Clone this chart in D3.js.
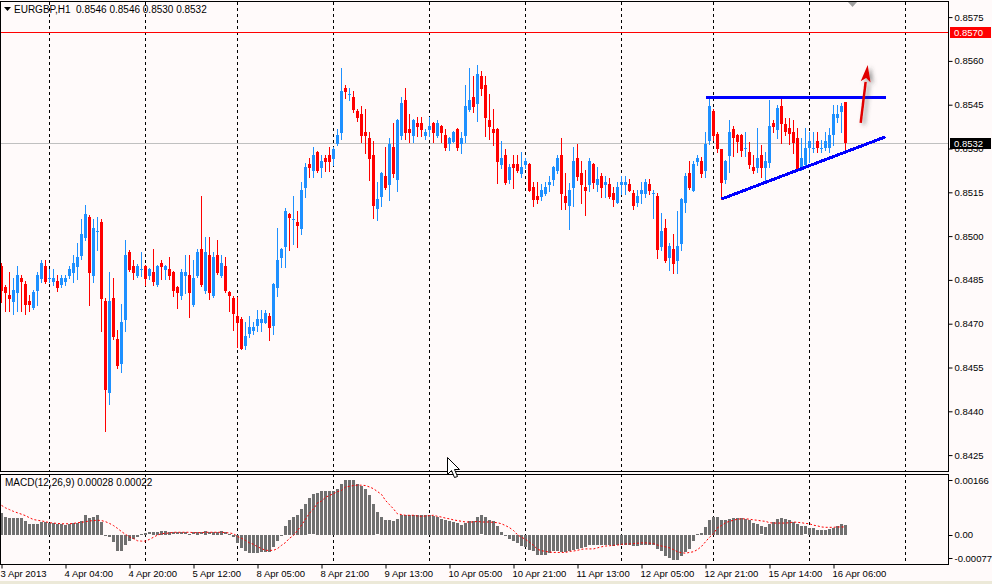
<!DOCTYPE html>
<html>
<head>
<meta charset="utf-8">
<script src="https://cdn.jsdelivr.net/npm/d3@7"></script>
<style>
  html, body { margin: 0; padding: 0; background: #fffafa; }
  svg { display: block; }
  text { font-family: "Liberation Sans", Arial, sans-serif; font-size: 9.5px; fill: #000; }
</style>
</head>
<body>
<svg id="chart" width="992" height="584"></svg>
<script>
// EURGBP H1, bar 0 = 3 Apr 2013 12:00, bar 211 = last (16 Apr)
const symbol = "EURGBP,H1";

const opens = [
  0.84898,0.84826,0.84798,0.84775,0.84805,0.84856,0.84836,0.84778,0.84755,0.84812,
  0.84853,0.84898,0.84854,0.84843,0.84846,0.84832,0.84843,0.84863,0.84874,0.84894,
  0.84932,0.84993,0.85065,0.84863,0.85016,0.85048,0.84778,0.84463,0.84788,0.84648,
  0.84562,0.84713,0.84946,0.84898,0.84863,0.84886,0.84898,0.84863,0.84877,0.84832,
  0.84908,0.84884,0.84887,0.84877,0.84826,0.84795,0.84863,0.84867,0.84765,0.84863,
  0.84956,0.84812,0.84935,0.84795,0.84935,0.84863,0.84898,0.84809,0.84788,0.84726,
  0.84717,0.84625,0.84666,0.84676,0.84693,0.84703,0.84703,0.84727,0.84693,0.84823,
  0.84926,0.84964,0.85077,0.85056,0.85049,0.85025,0.85166,0.85248,0.85224,0.85288,
  0.85234,0.85269,0.85278,0.85265,0.85315,0.85354,0.85507,0.85486,0.85476,0.85428,
  0.85418,0.85357,0.85336,0.85278,0.85094,0.85135,0.85206,0.85176,0.85305,0.85193,
  0.85344,0.85466,0.85367,0.85344,0.85387,0.85387,0.85344,0.85364,0.85387,0.85344,
  0.85377,0.85346,0.85315,0.85323,0.85367,0.85315,0.85344,0.85433,0.85476,0.85453,
  0.85548,0.85519,0.85398,0.85367,0.85367,0.85243,0.85278,0.85193,0.85247,0.85247,
  0.85214,0.85245,0.85247,0.85168,0.85137,0.85135,0.85145,0.85175,0.85193,0.85224,
  0.85278,0.85137,0.85104,0.85166,0.85267,0.85216,0.85168,0.85176,0.85247,0.85176,
  0.85206,0.85176,0.85178,0.85148,0.85114,0.85176,0.85176,0.85178,0.85148,0.85114,
  0.85145,0.85145,0.85178,0.85147,0.85137,0.84964,0.85028,0.84926,0.84956,0.84916,
  0.84974,0.85114,0.85216,0.85156,0.85255,0.85257,0.85224,0.85326,0.85428,0.85350,
  0.85297,0.85192,0.85274,0.85368,0.85346,0.85346,0.85300,0.85289,0.85238,0.85232,
  0.85278,0.85232,0.85249,0.85388,0.85363,0.85446,0.85383,0.85371,0.85358,0.85337,
  0.85238,0.85243,0.85301,0.85300,0.85326,0.85300,0.85301,0.85301,0.85346,0.85406,
  0.85426,0.85460
];
const highs = [
  0.84908,0.84832,0.84877,0.84856,0.84898,0.84867,0.84846,0.84798,0.84815,0.84877,
  0.84918,0.84918,0.84887,0.84887,0.84867,0.84867,0.84867,0.84898,0.84935,0.84976,
  0.85059,0.85107,0.85072,0.85059,0.85065,0.85059,0.84788,0.84877,0.84856,0.84678,
  0.84767,0.84987,0.84952,0.84918,0.84904,0.84946,0.84901,0.84891,0.84956,0.84901,
  0.84918,0.84901,0.84928,0.84880,0.84829,0.84887,0.84935,0.84935,0.84918,0.84956,
  0.85137,0.84997,0.84997,0.84946,0.84987,0.84935,0.84928,0.84812,0.84796,0.84792,
  0.84723,0.84707,0.84727,0.84707,0.84748,0.84748,0.84748,0.84738,0.84839,0.85029,
  0.84959,0.85097,0.85079,0.85138,0.85087,0.85186,0.85249,0.85269,0.85306,0.85291,
  0.85278,0.85279,0.85306,0.85306,0.85368,0.85577,0.85519,0.85507,0.85497,0.85435,
  0.85446,0.85435,0.85357,0.85326,0.85186,0.85220,0.85306,0.85336,0.85387,0.85401,
  0.85476,0.85507,0.85418,0.85401,0.85408,0.85408,0.85367,0.85408,0.85391,0.85398,
  0.85380,0.85367,0.85339,0.85360,0.85370,0.85357,0.85519,0.85577,0.85548,0.85587,
  0.85566,0.85548,0.85487,0.85435,0.85370,0.85326,0.85298,0.85248,0.85278,0.85278,
  0.85288,0.85267,0.85250,0.85186,0.85186,0.85178,0.85186,0.85207,0.85240,0.85278,
  0.85336,0.85216,0.85183,0.85305,0.85315,0.85257,0.85227,0.85267,0.85250,0.85237,
  0.85216,0.85206,0.85199,0.85168,0.85185,0.85206,0.85206,0.85196,0.85158,0.85158,
  0.85185,0.85196,0.85196,0.85158,0.85148,0.85080,0.85060,0.84977,0.85007,0.85086,
  0.85130,0.85216,0.85257,0.85257,0.85278,0.85271,0.85357,0.85476,0.85435,0.85357,
  0.85298,0.85261,0.85398,0.85378,0.85350,0.85350,0.85358,0.85323,0.85278,0.85369,
  0.85312,0.85289,0.85466,0.85398,0.85449,0.85474,0.85403,0.85403,0.85398,0.85369,
  0.85335,0.85369,0.85358,0.85358,0.85358,0.85329,0.85358,0.85369,0.85449,0.85449,
  0.85455,0.85460
];
const lows = [
  0.84775,0.84744,0.84744,0.84734,0.84744,0.84744,0.84734,0.84744,0.84750,0.84765,
  0.84843,0.84839,0.84843,0.84832,0.84812,0.84826,0.84832,0.84856,0.84843,0.84853,
  0.84922,0.84987,0.84765,0.84843,0.84952,0.84675,0.84332,0.84425,0.84648,0.84548,
  0.84535,0.84675,0.84880,0.84853,0.84860,0.84863,0.84832,0.84853,0.84832,0.84829,
  0.84853,0.84853,0.84853,0.84795,0.84755,0.84786,0.84805,0.84724,0.84761,0.84860,
  0.84829,0.84805,0.84786,0.84791,0.84870,0.84860,0.84809,0.84744,0.84678,0.84621,
  0.84612,0.84614,0.84655,0.84666,0.84676,0.84676,0.84701,0.84645,0.84666,0.84796,
  0.84895,0.84895,0.84953,0.84974,0.84964,0.85006,0.85135,0.85203,0.85203,0.85221,
  0.85203,0.85224,0.85224,0.85245,0.85312,0.85334,0.85474,0.85466,0.85425,0.85394,
  0.85323,0.85286,0.85193,0.85063,0.85056,0.85104,0.85163,0.85125,0.85203,0.85156,
  0.85334,0.85334,0.85323,0.85323,0.85344,0.85344,0.85334,0.85344,0.85323,0.85341,
  0.85323,0.85296,0.85296,0.85321,0.85296,0.85286,0.85323,0.85430,0.85425,0.85395,
  0.85484,0.85343,0.85332,0.85312,0.85183,0.85234,0.85180,0.85183,0.85166,0.85221,
  0.85203,0.85234,0.85153,0.85104,0.85114,0.85125,0.85142,0.85156,0.85176,0.85216,
  0.85094,0.85094,0.85025,0.85104,0.85193,0.85114,0.85073,0.85156,0.85166,0.85156,
  0.85135,0.85135,0.85132,0.85104,0.85112,0.85145,0.85145,0.85153,0.85094,0.85104,
  0.85114,0.85135,0.85145,0.85063,0.84926,0.84953,0.84913,0.84884,0.84875,0.84875,
  0.84953,0.85084,0.85163,0.85153,0.85245,0.85203,0.85203,0.85315,0.85329,0.85288,
  0.85126,0.85183,0.85221,0.85274,0.85289,0.85274,0.85274,0.85232,0.85215,0.85221,
  0.85203,0.85186,0.85238,0.85358,0.85335,0.85318,0.85346,0.85314,0.85284,0.85223,
  0.85226,0.85232,0.85255,0.85289,0.85289,0.85289,0.85295,0.85289,0.85312,0.85392,
  0.85358,0.85300
];
const closes = [
  0.84812,0.84805,0.84785,0.84815,0.84867,0.84843,0.84765,0.84765,0.84809,0.84867,
  0.84908,0.84843,0.84857,0.84856,0.84823,0.84856,0.84856,0.84887,0.84908,0.84928,
  0.85007,0.85076,0.84874,0.85028,0.85017,0.84785,0.84473,0.84778,0.84654,0.84555,
  0.84706,0.84935,0.84884,0.84874,0.84898,0.84887,0.84853,0.84887,0.84843,0.84898,
  0.84894,0.84898,0.84863,0.84812,0.84805,0.84877,0.84877,0.84805,0.84856,0.84946,
  0.84832,0.84946,0.84805,0.84928,0.84874,0.84908,0.84812,0.84795,0.84734,0.84703,
  0.84614,0.84659,0.84690,0.84690,0.84717,0.84717,0.84738,0.84686,0.84837,0.84919,
  0.84957,0.85086,0.85063,0.85058,0.85036,0.85159,0.85238,0.85234,0.85278,0.85224,
  0.85258,0.85255,0.85255,0.85298,0.85346,0.85497,0.85494,0.85487,0.85432,0.85404,
  0.85343,0.85343,0.85265,0.85104,0.85127,0.85216,0.85166,0.85315,0.85214,0.85398,
  0.85456,0.85354,0.85354,0.85398,0.85375,0.85364,0.85357,0.85377,0.85354,0.85387,
  0.85354,0.85303,0.85336,0.85357,0.85303,0.85336,0.85446,0.85466,0.85443,0.85555,
  0.85505,0.85404,0.85375,0.85353,0.85255,0.85267,0.85183,0.85237,0.85234,0.85224,
  0.85237,0.85257,0.85156,0.85125,0.85125,0.85158,0.85168,0.85185,0.85237,0.85267,
  0.85145,0.85114,0.85158,0.85257,0.85203,0.85176,0.85156,0.85257,0.85183,0.85196,
  0.85166,0.85185,0.85135,0.85125,0.85168,0.85185,0.85185,0.85156,0.85104,0.85137,
  0.85158,0.85185,0.85156,0.85148,0.84953,0.85017,0.84916,0.84966,0.84905,0.84966,
  0.85127,0.85206,0.85166,0.85247,0.85267,0.85214,0.85315,0.85446,0.85343,0.85298,
  0.85183,0.85257,0.85357,0.85337,0.85323,0.85291,0.85302,0.85243,0.85224,0.85269,
  0.85232,0.85257,0.85377,0.85375,0.85438,0.85383,0.85358,0.85349,0.85320,0.85226,
  0.85269,0.85301,0.85326,0.85302,0.85301,0.85302,0.85326,0.85346,0.85417,0.85417,
  0.85446,0.85320
];

// MACD(12,26,9): main histogram and signal, one value per bar
const macdMain = [
  0.00061,0.00050,0.00047,0.00047,0.00047,0.00047,0.00039,0.00030,0.00030,0.00030,
  0.00036,0.00036,0.00033,0.00033,0.00030,0.00030,0.00027,0.00030,0.00033,0.00033,
  0.00039,0.00056,0.00047,0.00050,0.00056,0.00036,-0.00003,-0.00007,-0.00021,-0.00044,
  -0.00044,-0.00027,-0.00016,-0.00011,-0.00007,0.00003,0.00005,0.00007,0.00008,0.00009,
  0.00012,0.00012,0.00009,0.00007,0.00007,0.00007,0.00007,0.00003,0.00007,0.00009,
  0.00007,0.00012,0.00007,0.00009,0.00009,0.00012,0.00007,0.00003,-0.00007,-0.00022,
  -0.00037,-0.00044,-0.00050,-0.00050,-0.00050,-0.00048,-0.00048,-0.00048,-0.00035,-0.00018,
  -0.00003,0.00025,0.00041,0.00050,0.00057,0.00073,0.00088,0.00103,0.00114,0.00118,
  0.00123,0.00123,0.00123,0.00123,0.00129,0.00144,0.00154,0.00156,0.00156,0.00144,
  0.00139,0.00129,0.00112,0.00088,0.00063,0.00050,0.00041,0.00041,0.00039,0.00044,
  0.00056,0.00056,0.00056,0.00057,0.00057,0.00057,0.00056,0.00056,0.00054,0.00050,
  0.00044,0.00041,0.00039,0.00036,0.00033,0.00027,0.00033,0.00039,0.00039,0.00050,
  0.00055,0.00050,0.00041,0.00039,0.00026,0.00008,-0.00002,-0.00011,-0.00018,-0.00024,
  -0.00030,-0.00033,-0.00041,-0.00046,-0.00057,-0.00057,-0.00057,-0.00052,-0.00044,-0.00044,
  -0.00047,-0.00047,-0.00044,-0.00041,-0.00040,-0.00037,-0.00035,-0.00027,-0.00027,-0.00027,
  -0.00027,-0.00027,-0.00027,-0.00030,-0.00027,-0.00027,-0.00027,-0.00027,-0.00030,-0.00030,
  -0.00027,-0.00027,-0.00027,-0.00027,-0.00040,-0.00044,-0.00058,-0.00065,-0.00071,-0.00071,
  -0.00058,-0.00049,-0.00040,-0.00016,0.00001,0.00005,0.00022,0.00041,0.00050,0.00050,
  0.00041,0.00041,0.00045,0.00048,0.00048,0.00048,0.00045,0.00041,0.00033,0.00031,
  0.00024,0.00022,0.00031,0.00036,0.00044,0.00047,0.00044,0.00041,0.00036,0.00031,
  0.00026,0.00024,0.00019,0.00019,0.00014,0.00014,0.00014,0.00016,0.00020,0.00026,
  0.00031,0.00028
];
const macdSignal = [
  0.00083,0.00076,0.00071,0.00066,0.00062,0.00058,0.00054,0.00048,0.00043,0.00041,
  0.00039,0.00037,0.00034,0.00033,0.00032,0.00031,0.00031,0.00031,0.00032,0.00034,
  0.00035,0.00037,0.00039,0.00040,0.00041,0.00040,0.00037,0.00032,0.00026,0.00018,
  0.00009,0.00001,-0.00006,-0.00011,-0.00017,-0.00018,-0.00018,-0.00013,-0.00007,-0.00001,
  0.00003,0.00004,0.00005,0.00007,0.00007,0.00007,0.00007,0.00007,0.00006,0.00006,
  0.00006,0.00007,0.00007,0.00007,0.00007,0.00007,0.00006,0.00005,0.00003,-0.00005,
  -0.00010,-0.00016,-0.00023,-0.00027,-0.00034,-0.00039,-0.00044,-0.00044,-0.00044,-0.00039,
  -0.00030,-0.00022,-0.00010,-0.00002,0.00012,0.00027,0.00044,0.00061,0.00073,0.00090,
  0.00095,0.00106,0.00111,0.00116,0.00122,0.00125,0.00135,0.00137,0.00139,0.00140,
  0.00140,0.00139,0.00135,0.00130,0.00122,0.00114,0.00097,0.00085,0.00073,0.00059,
  0.00057,0.00055,0.00055,0.00055,0.00053,0.00052,0.00053,0.00054,0.00055,0.00052,
  0.00050,0.00047,0.00045,0.00042,0.00040,0.00038,0.00036,0.00036,0.00036,0.00038,
  0.00036,0.00036,0.00036,0.00035,0.00034,0.00031,0.00026,0.00020,0.00012,0.00000,
  -0.00007,-0.00013,-0.00021,-0.00030,-0.00041,-0.00045,-0.00047,-0.00049,-0.00050,-0.00050,
  -0.00050,-0.00050,-0.00047,-0.00046,-0.00044,-0.00041,-0.00040,-0.00040,-0.00040,-0.00037,
  -0.00034,-0.00032,-0.00031,-0.00030,-0.00029,-0.00027,-0.00026,-0.00026,-0.00025,-0.00024,
  -0.00023,-0.00023,-0.00024,-0.00025,-0.00029,-0.00032,-0.00034,-0.00037,-0.00042,-0.00048,
  -0.00051,-0.00052,-0.00050,-0.00048,-0.00042,-0.00033,-0.00020,-0.00007,0.00003,0.00020,
  0.00026,0.00034,0.00038,0.00041,0.00044,0.00045,0.00045,0.00044,0.00042,0.00041,
  0.00039,0.00038,0.00034,0.00033,0.00033,0.00033,0.00033,0.00034,0.00036,0.00035,
  0.00034,0.00032,0.00031,0.00027,0.00025,0.00022,0.00021,0.00021,0.00021,0.00022,
  0.00022,0.00022
];

const priceTicks = [0.8575, 0.8560, 0.8545, 0.8530, 0.8515, 0.8500, 0.8485, 0.8470, 0.8455, 0.8440, 0.8425];
const macdTicks = [0.00166, 0, -0.00077];
const macdTickLabels = ["0.00166", "0.00", "-0.00077"];
const timeLabels = ["3 Apr 2013", "4 Apr 04:00", "4 Apr 20:00", "5 Apr 12:00", "8 Apr 05:00", "8 Apr 21:00",
  "9 Apr 13:00", "10 Apr 05:00", "10 Apr 21:00", "11 Apr 13:00", "12 Apr 05:00", "12 Apr 21:00",
  "15 Apr 14:00", "16 Apr 06:00"];
const timeLabelBars = [0, 16, 32, 48, 64, 80, 96, 112, 128, 144, 160, 176, 192, 208];
const gridBars = [12, 36, 59, 83, 107, 131, 155, 178, 202, 226];

// objects drawn on the chart by hand
const alertLevel = 0.8570;
const resistanceBars = [176, 221];
const resistancePrices = [0.85474, 0.85474];
const supportBars = [180, 221];
const supportPrices = [0.85127, 0.85340];
const arrowBars = [214.8, 216.55];
const arrowPrices = [0.85388, 0.85586];

const bullColor = "#1e90ff";
const bearColor = "#ff0000";
const plotRight = 948;
const mainTop = 2, mainBottom = 471, macdTop = 474, macdBottom = 564;

let svg = d3.select("#chart");

// one bar = 4 px
let x = d3.scaleLinear().domain([0, 1]).range([1.5, 5.5]);
let y = d3.scaleLinear().domain([0.8425, 0.8575]).range([455.1, 17.1]);
let ym = d3.scaleLinear().domain([-0.00077, 0.00166]).range([562, 476]);

let defs = svg.append("defs");
defs.append("clipPath").attr("id", "clipMain")
  .append("rect").attr("x", 1).attr("y", mainTop).attr("width", plotRight - 1).attr("height", mainBottom - mainTop);
defs.append("clipPath").attr("id", "clipMacd")
  .append("rect").attr("x", 1).attr("y", macdTop).attr("width", plotRight - 1).attr("height", macdBottom - macdTop);
let shadow = defs.append("filter").attr("id", "arrowShadow")
  .attr("x", "-100%").attr("y", "-50%").attr("width", "300%").attr("height", "200%");
shadow.append("feDropShadow")
  .attr("dx", 3).attr("dy", 2).attr("stdDeviation", 2.2)
  .attr("flood-color", "#444").attr("flood-opacity", 0.55);

svg.append("rect").attr("width", 992).attr("height", 584).attr("fill", "#fffafa");
svg.append("rect").attr("x", 0).attr("y", 581).attr("width", 992).attr("height", 3).attr("fill", "#ece9d8");

let g_main = svg.append("g").attr("clip-path", "url(#clipMain)");
let g_macd = svg.append("g").attr("clip-path", "url(#clipMacd)");

// vertical dashed grid, both windows
[[mainTop, mainBottom, g_main], [macdTop, macdBottom, g_macd]].forEach(([t, b, g]) => {
  g.selectAll("line.grid").data(gridBars).join("line")
    .attr("class", "grid")
    .attr("x1", d => x(d)).attr("x2", d => x(d))
    .attr("y1", t).attr("y2", b)
    .attr("stroke", "#000")
    .attr("stroke-width", 1)
    .attr("stroke-dasharray", "3,3");
});

// alert line and bid line
g_main.append("line")
  .attr("x1", 0).attr("x2", plotRight)
  .attr("y1", Math.round(y(alertLevel)) + 0.5).attr("y2", Math.round(y(alertLevel)) + 0.5)
  .attr("stroke", "#ff0000");
let lastClose = closes[closes.length - 1];
g_main.append("line")
  .attr("x1", 0).attr("x2", plotRight)
  .attr("y1", Math.round(y(lastClose)) + 0.5).attr("y2", Math.round(y(lastClose)) + 0.5)
  .attr("stroke", "#c0c0c0");

// candles
let bars = d3.range(opens.length).map(i => ({ i: i, o: opens[i], h: highs[i], l: lows[i], c: closes[i] }));
let colorOf = d => (d.c >= d.o ? bullColor : bearColor);
let g_candles = g_main.append("g").attr("shape-rendering", "crispEdges");
g_candles.selectAll("line.wick").data(bars).join("line")
  .attr("class", "wick")
  .attr("x1", d => x(d.i)).attr("x2", d => x(d.i))
  .attr("y1", d => Math.round(y(d.h))).attr("y2", d => Math.round(y(d.l)) + 1)
  .attr("stroke", colorOf);
g_candles.selectAll("rect.body").data(bars).join("rect")
  .attr("class", "body")
  .attr("x", d => x(d.i) - 1.5)
  .attr("width", 3)
  .attr("y", d => Math.round(y(Math.max(d.o, d.c))))
  .attr("height", d => Math.max(1, Math.round(y(Math.min(d.o, d.c))) - Math.round(y(Math.max(d.o, d.c)))))
  .attr("fill", colorOf);

// triangle lines
let line = d3.line().x(d => x(d[0])).y(d => y(d[1]));
g_main.append("path")
  .datum(d3.zip(resistanceBars, resistancePrices))
  .attr("d", line)
  .attr("fill", "none").attr("stroke", "#0000ff").attr("stroke-width", 3)
  .attr("shape-rendering", "crispEdges");
g_main.append("path")
  .datum(d3.zip(supportBars, supportPrices))
  .attr("d", line)
  .attr("fill", "none").attr("stroke", "#0000ff").attr("stroke-width", 3)
  .attr("shape-rendering", "crispEdges");

// red arrow
let ax0 = x(arrowBars[0]), ay0 = y(arrowPrices[0]);
let ax1 = x(arrowBars[1]), ay1 = y(arrowPrices[1]);
let len = Math.hypot(ax1 - ax0, ay1 - ay0);
let ux = (ax1 - ax0) / len, uy = (ay1 - ay0) / len;
let headLen = 17, headHalf = 5;
let bx = ax1 - ux * headLen, by = ay1 - uy * headLen;
let g_arrow = g_main.append("g").attr("filter", "url(#arrowShadow)");
g_arrow.append("line")
  .attr("x1", ax0).attr("y1", ay0).attr("x2", bx).attr("y2", by)
  .attr("stroke", "#e00000").attr("stroke-width", 2.5);
g_arrow.append("path")
  .attr("d", "M" + ax1 + "," + ay1 +
    "L" + (bx - uy * headHalf) + "," + (by + ux * headHalf) +
    "L" + (bx + ux * 4) + "," + (by + uy * 4) +
    "L" + (bx + uy * headHalf) + "," + (by - ux * headHalf) + "Z")
  .attr("fill", "#e00000");

// MACD histogram + signal
g_macd.append("g").attr("shape-rendering", "crispEdges")
  .selectAll("rect").data(macdMain).join("rect")
  .attr("x", (d, i) => x(i) - 1.5)
  .attr("width", 3)
  .attr("y", d => Math.round(Math.min(ym(d), ym(0))))
  .attr("height", d => Math.max(1, Math.round(Math.abs(ym(d) - ym(0)))))
  .attr("fill", "#707070");
g_macd.append("path")
  .datum(macdSignal)
  .attr("d", d3.line().x((d, i) => x(i)).y(d => ym(d)))
  .attr("fill", "none")
  .attr("stroke", "#ff0000")
  .attr("stroke-width", 1)
  .attr("stroke-dasharray", "2,2");

// window frames
svg.append("rect").attr("x", 0.5).attr("y", 1.5).attr("width", plotRight).attr("height", mainBottom - 1)
  .attr("fill", "none").attr("stroke", "#000");
svg.append("rect").attr("x", 0.5).attr("y", macdTop + 0.5).attr("width", plotRight).attr("height", macdBottom - macdTop)
  .attr("fill", "none").attr("stroke", "#000");

// price axis
let priceAxis = d3.axisRight(y).tickValues(priceTicks).tickSize(4).tickPadding(2).tickFormat(d3.format(".4f"));
let g_pAxis = svg.append("g").attr("transform", "translate(" + (plotRight + 0.5) + ",0)").call(priceAxis);
g_pAxis.select(".domain").remove();
g_pAxis.attr("font-size", null).attr("font-family", null);

// price labels on the axis
function priceBox(price, fill) {
  let yy = Math.round(y(price));
  svg.append("rect").attr("x", plotRight + 2).attr("y", yy - 5).attr("width", 41).attr("height", 11).attr("fill", fill);
  svg.append("text").attr("x", plotRight + 6).attr("y", yy + 4)
    .style("fill", "#fff").text(d3.format(".4f")(price));
}
priceBox(alertLevel, "#ff0000");
priceBox(lastClose, "#000000");

// MACD axis
let g_mAxis = svg.append("g").attr("transform", "translate(" + (plotRight + 0.5) + ",0)");
macdTicks.forEach((v, i) => {
  let yy = Math.min(Math.max(ym(v), 480), 558);
  g_mAxis.append("line").attr("x1", 0).attr("x2", 4).attr("y1", Math.round(yy) + 0.5).attr("y2", Math.round(yy) + 0.5).attr("stroke", "#000");
  g_mAxis.append("text").attr("x", 6).attr("y", yy + 3.5).text(macdTickLabels[i]);
});

// time axis, label text starts just left of its tick
let timeAxis = d3.axisBottom(x).tickValues(timeLabelBars).tickSize(4).tickFormat((d, i) => timeLabels[i]);
let g_tAxis = svg.append("g").attr("transform", "translate(0," + (macdBottom + 0.5) + ")").call(timeAxis);
g_tAxis.select(".domain").remove();
g_tAxis.attr("font-size", null).attr("font-family", null);
g_tAxis.selectAll("text").attr("text-anchor", "start").attr("x", -1.5).attr("y", 6);

// window titles
let last = opens.length - 1;
svg.append("path").attr("d", "M4,7L11,7L7.5,11Z").attr("fill", "#000");
svg.append("text").attr("x", 14).attr("y", 13).style("white-space", "pre").style("font-size", "10px")
  .text(symbol + "  " + [opens[last], highs[last], lows[last], closes[last]].map(d3.format(".4f")).join(" "));
svg.append("text").attr("x", 5).attr("y", 486).style("font-size", "10px")
  .text("MACD(12,26,9) " + macdMain[last].toFixed(5) + " " + macdSignal[last].toFixed(5));

// chart shift marker and mouse pointer
svg.append("path").attr("d", "M848,2L857,2L852.5,7Z").attr("fill", "#a0a0a0");
svg.append("path")
  .attr("d", "M447.5,457.5L447.5,474.5L451.5,470.5L454.5,477.5L457.5,476.5L454.5,469.5L459.5,469.5Z")
  .attr("fill", "#fff").attr("stroke", "#000").attr("stroke-width", 1);
</script>
</body>
</html>
